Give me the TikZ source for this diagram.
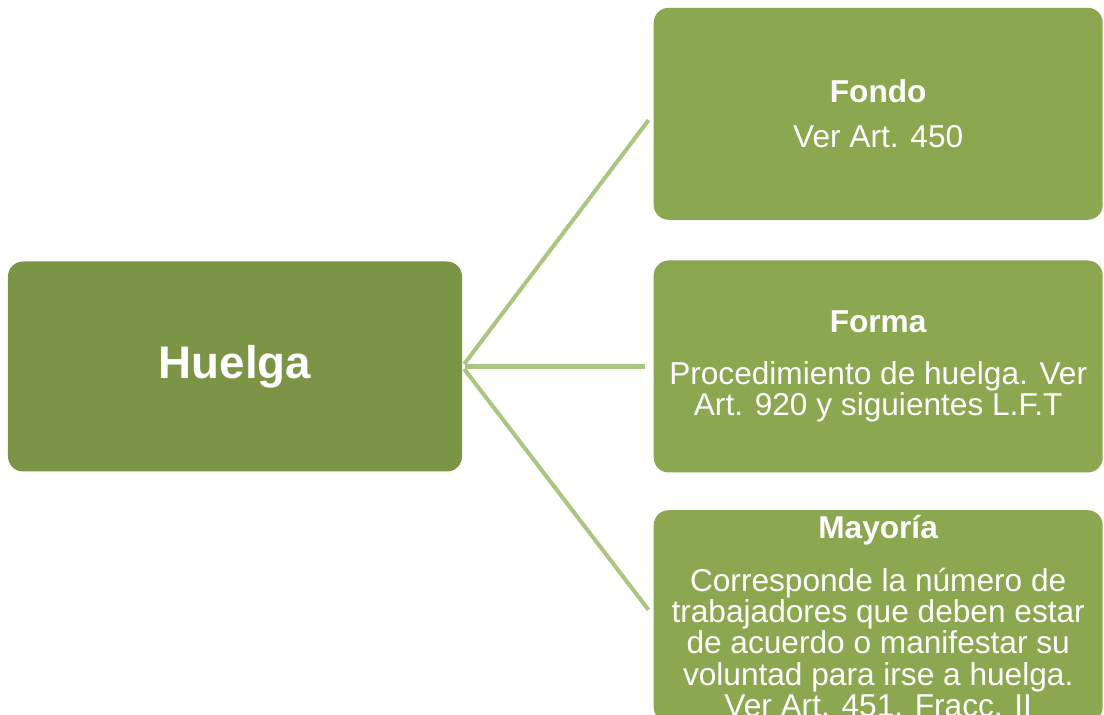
\documentclass[tikz,border=0pt]{standalone}
\usepackage{fontspec}
\setmainfont{Liberation Sans}
\usetikzlibrary{positioning}
\definecolor{rootgreen}{RGB}{124,148,70}
\definecolor{leafgreen}{RGB}{139,168,80}
\definecolor{linegreen}{RGB}{170,198,128}
\tikzstyle{root}=[fill=rootgreen,rounded corners=0.3cm,text=white,font=\fontsize{26}{30}\selectfont\bfseries,minimum width=9.08cm,minimum height=4.2cm,inner sep=0pt]
\tikzstyle{leaf}=[fill=leafgreen,rounded corners=0.3cm,text=white,font=\fontsize{18}{17.8}\selectfont,align=center,minimum width=8.98cm,minimum height=4.24cm,inner sep=0pt]
\tikzstyle{conn}=[draw=linegreen,line width=2.3pt,shorten <=0.06cm,shorten >=0.16cm]

\begin{document}
\begin{tikzpicture}
    \clip (0,0) rectangle (22.08,-14.3);
    \node [root] (huelga) at (4.7,-7.33) {Huelga};
    \node [leaf] (forma) [right=3.82cm of huelga] {\textbf{Forma}\\[12pt]Procedimiento de huelga. Ver\\Art. 920 y siguientes L.F.T};
    \node [leaf] (fondo) [above=0.8cm of forma] {\textbf{Fondo}\\[8pt]Ver Art. 450};
    \node [leaf] (mayoria) [below=0.74cm of forma] {\textbf{Mayoría}\\[12pt]Corresponde la número de\\trabajadores que deben estar\\de acuerdo o manifestar su\\voluntad para irse a huelga.\\Ver Art. 451. Fracc. II};

    \draw [conn] (huelga.east) -- (fondo.west);
    \draw [conn] (huelga.east) -- (forma.west);
    \draw [conn] (huelga.east) -- (mayoria.west);
\end{tikzpicture}
\end{document}
